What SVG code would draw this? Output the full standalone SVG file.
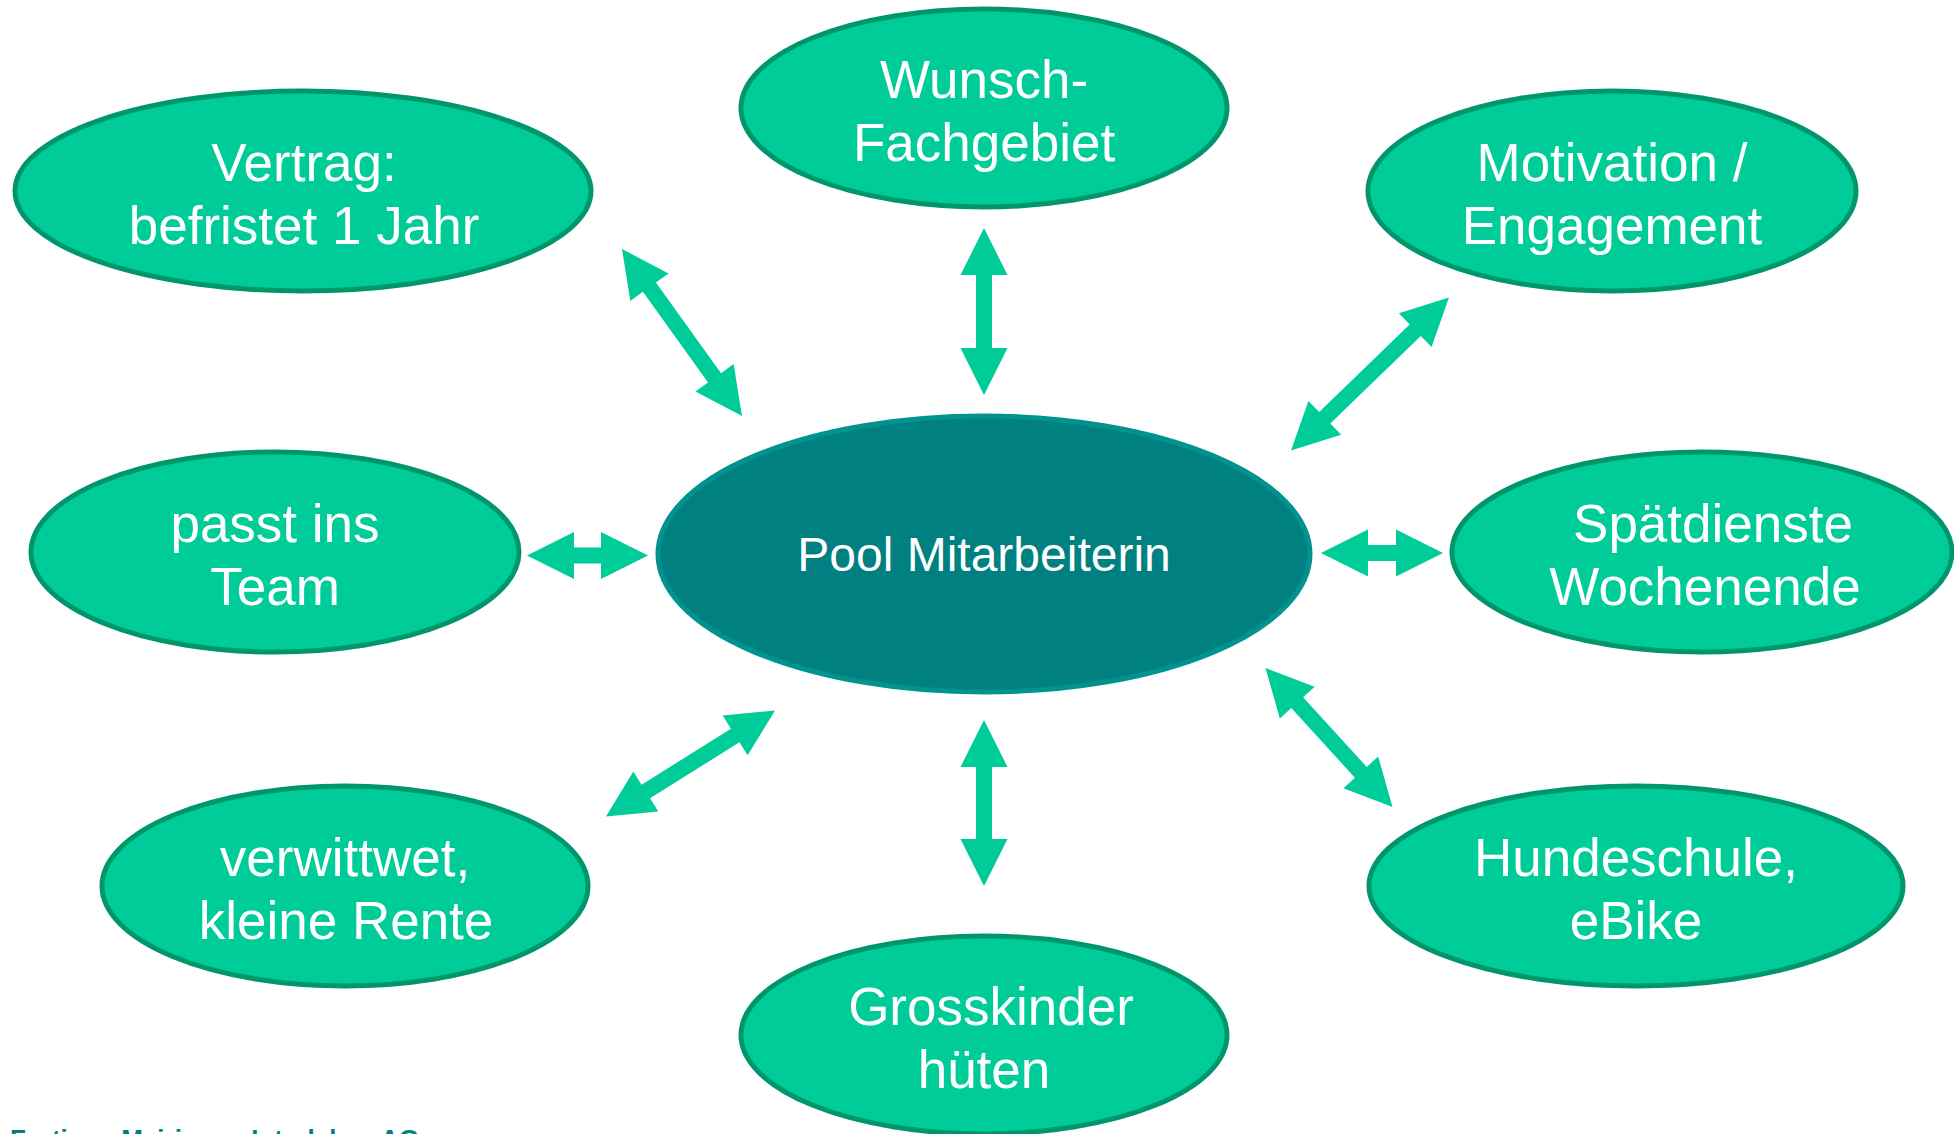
<svg xmlns="http://www.w3.org/2000/svg" width="1954" height="1134" viewBox="0 0 1954 1134">
<style>
.node ellipse{fill:#00CC99;stroke:#00966B;stroke-width:5}
.node text{font-family:"Liberation Sans",Arial,sans-serif;font-size:53px;fill:#ffffff;text-anchor:middle}
#center ellipse{fill:#008080;stroke:#00938F;stroke-width:5}
#center text{font-size:48px}
.arrow{fill:#00CC99}
.foot{font-family:"Liberation Sans",Arial,sans-serif;font-size:26px;font-weight:bold;fill:#007F7F}
</style>
<rect width="1954" height="1134" fill="#ffffff"/>
<g id="connectors">
<g transform="translate(622,249) rotate(54.3)"><polygon class="arrow" points="0,0 47,-23.5 47,-8 158.6,-8 158.6,-23.5 205.6,0 158.6,23.5 158.6,8 47,8 47,23.5"/></g>
<g transform="translate(984,228) rotate(90)"><polygon class="arrow" points="0,0 47,-23.5 47,-8 120,-8 120,-23.5 167,0 120,23.5 120,8 47,8 47,23.5"/></g>
<g transform="translate(1291,450.5) rotate(-44.08)"><polygon class="arrow" points="0,0 47,-23.5 47,-8 172.9,-8 172.9,-23.5 219.9,0 172.9,23.5 172.9,8 47,8 47,23.5"/></g>
<g transform="translate(527,555.5)"><polygon class="arrow" points="0,0 47,-23.5 47,-8 74,-8 74,-23.5 121,0 74,23.5 74,8 47,8 47,23.5"/></g>
<g transform="translate(1321,553)"><polygon class="arrow" points="0,0 47,-23.5 47,-8 75,-8 75,-23.5 122,0 75,23.5 75,8 47,8 47,23.5"/></g>
<g transform="translate(606,816.5) rotate(-32.1)"><polygon class="arrow" points="0,0 47,-23.5 47,-8 152.5,-8 152.5,-23.5 199.5,0 152.5,23.5 152.5,8 47,8 47,23.5"/></g>
<g transform="translate(984,720) rotate(90)"><polygon class="arrow" points="0,0 47,-23.5 47,-8 119,-8 119,-23.5 166,0 119,23.5 119,8 47,8 47,23.5"/></g>
<g transform="translate(1265.5,668) rotate(47.58)"><polygon class="arrow" points="0,0 47,-23.5 47,-8 141.3,-8 141.3,-23.5 188.3,0 141.3,23.5 141.3,8 47,8 47,23.5"/></g>
</g>
<g id="center" class="node">
<ellipse cx="984" cy="554" rx="326" ry="138"/>
<text x="984" y="571">Pool Mitarbeiterin</text>
</g>
<g id="vertrag" class="node">
<ellipse cx="303" cy="191" rx="288" ry="100"/>
<text x="304" y="181">Vertrag:</text>
<text x="304" y="244">befristet 1 Jahr</text>
</g>
<g id="wunsch" class="node">
<ellipse cx="984" cy="108" rx="243" ry="99"/>
<text x="984" y="98">Wunsch-</text>
<text x="984" y="161">Fachgebiet</text>
</g>
<g id="motivation" class="node">
<ellipse cx="1612" cy="191" rx="244" ry="100"/>
<text x="1612" y="181">Motivation /</text>
<text x="1612" y="244">Engagement</text>
</g>
<g id="team" class="node">
<ellipse cx="275" cy="552" rx="244" ry="100"/>
<text x="275" y="542">passt ins</text>
<text x="275" y="605">Team</text>
</g>
<g id="spaetdienste" class="node">
<ellipse cx="1702" cy="552" rx="250" ry="100"/>
<text x="1713" y="542">Spätdienste</text>
<text x="1705" y="605">Wochenende</text>
</g>
<g id="verwittwet" class="node">
<ellipse cx="345" cy="886" rx="243" ry="100"/>
<text x="345" y="876">verwittwet,</text>
<text x="346" y="939">kleine Rente</text>
</g>
<g id="grosskinder" class="node">
<ellipse cx="984" cy="1035" rx="243" ry="99"/>
<text x="991" y="1025">Grosskinder</text>
<text x="984" y="1088">hüten</text>
</g>
<g id="hundeschule" class="node">
<ellipse cx="1636" cy="886" rx="267" ry="100"/>
<text x="1636" y="876">Hundeschule,</text>
<text x="1636" y="939">eBike</text>
</g>
<text class="foot" x="10" y="1148">Frutigen Meiringen Interlaken AG</text>
</svg>
